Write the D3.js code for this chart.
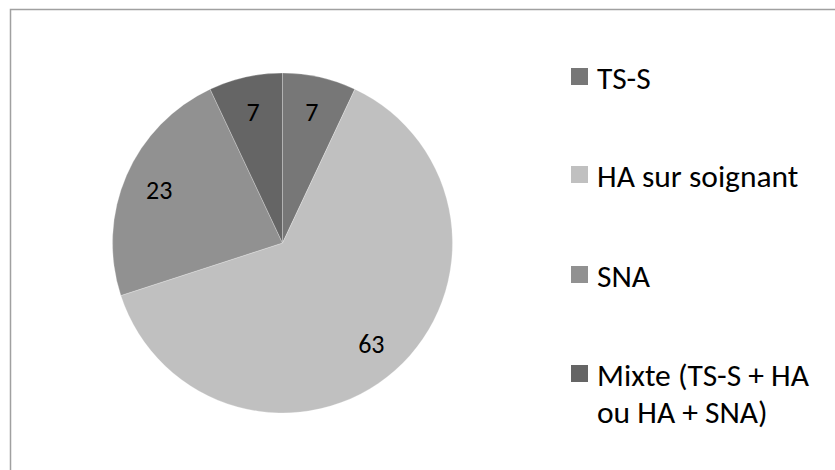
<!DOCTYPE html>
<html>
<head>
<meta charset="utf-8">
<script src="https://cdn.jsdelivr.net/npm/d3@7"></script>
<style>
  body { margin: 0; background: #fff; }
  svg { display: block; }
</style>
</head>
<body>
<div id="chart"></div>
<script>
// data
const categories = ["TS-S", "HA sur soignant", "SNA", "Mixte (TS-S + HA ou HA + SNA)"];
const legendLines = [["TS-S"], ["HA sur soignant"], ["SNA"], ["Mixte (TS-S + HA", "ou HA + SNA)"]];
const values = [7, 63, 23, 7];
const colors = ["#777777", "#c0c0c0", "#919191", "#656565"];

const width = 835;
const height = 470;
const radius = 170;
const cx = 282.5, cy = 243;
const fontFamily = "Carlito, Calibri, Lato, sans-serif";

const svg = d3.select("#chart")
    .append("svg")
    .attr("width", width)
    .attr("height", height)
    .attr("font-family", fontFamily);

// chart frame (runs off the right / bottom edge)
svg.append("rect")
    .attr("x", 10.5)
    .attr("y", 9.5)
    .attr("width", 900)
    .attr("height", 600)
    .attr("fill", "#fff")
    .attr("stroke", "#a0a0a0")
    .attr("stroke-width", 1.5);

const color = d3.scaleOrdinal(categories, colors);

const pie = d3.pie().sort(null).value(d => d);
const arcs = pie(values);

const arc = d3.arc().innerRadius(0).outerRadius(radius);
const labelArc = d3.arc().innerRadius(radius * 0.79).outerRadius(radius * 0.79);

const g = svg.append("g")
    .attr("transform", `translate(${cx},${cy})`);

g.selectAll("path")
    .data(arcs)
    .join("path")
    .attr("d", arc)
    .attr("fill", (d, i) => color(categories[i]))
    .attr("stroke", "#ffffff")
    .attr("stroke-opacity", 0.35)
    .attr("stroke-width", 0.75);

g.selectAll("text")
    .data(arcs)
    .join("text")
    .attr("transform", d => `translate(${labelArc.centroid(d)})`)
    .attr("text-anchor", "middle")
    .attr("dy", "0.35em")
    .attr("font-size", 26)
    .attr("fill", "#000")
    .text(d => d.value);

// legend
const legendRows = [89, 187, 287, 386];
const legend = svg.append("g")
    .selectAll("g")
    .data(categories)
    .join("g")
    .attr("transform", (d, i) => `translate(571,${legendRows[i]})`);

legend.append("rect")
    .attr("x", 0)
    .attr("y", -21)
    .attr("width", 17)
    .attr("height", 17)
    .attr("fill", d => color(d));

legend.append("text")
    .attr("font-size", 31.5)
    .attr("fill", "#000")
    .selectAll("tspan")
    .data((d, i) => legendLines[i])
    .join("tspan")
    .attr("x", 26)
    .attr("y", (d, i) => i * 37)
    .text(d => d);
</script>
</body>
</html>
